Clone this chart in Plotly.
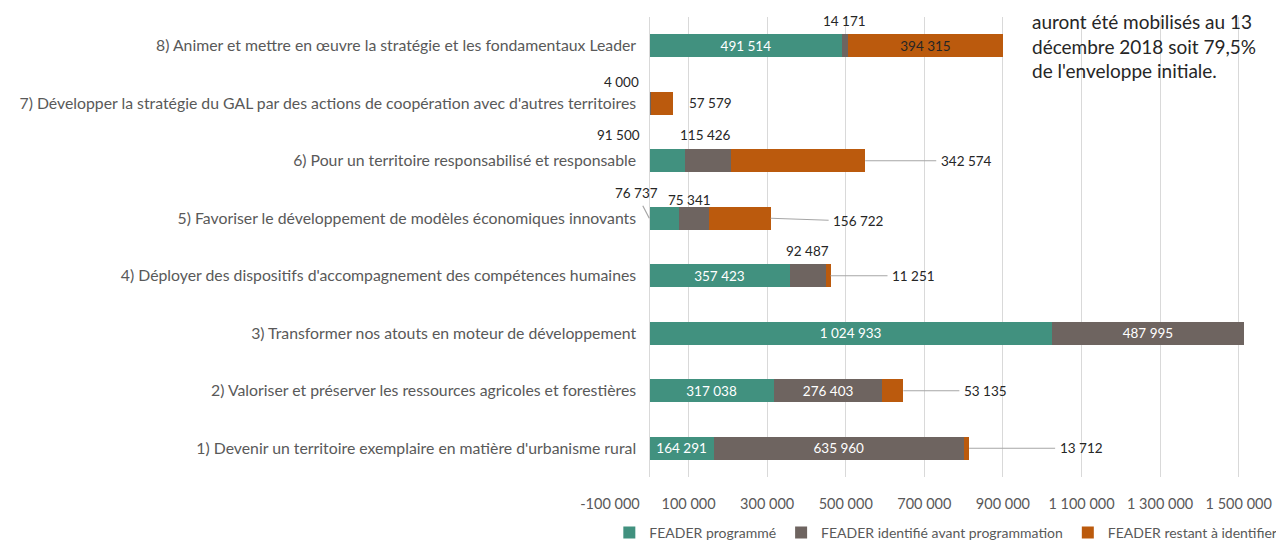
import plotly.graph_objects as go

categories = [
    "1) Devenir un territoire exemplaire en matière d'urbanisme rural",
    "2) Valoriser et préserver les ressources agricoles et forestières",
    "3) Transformer nos atouts en moteur de développement",
    "4) Déployer des dispositifs d'accompagnement des compétences humaines",
    "5) Favoriser le développement de modèles économiques innovants",
    "6) Pour un territoire responsabilisé et responsable",
    "7) Développer la stratégie du GAL par des actions de coopération avec d'autres territoires",
    "8) Animer et mettre en œuvre la stratégie et les fondamentaux Leader",
]
programme = [164291, 317038, 1024933, 357423, 76737, 91500, 0, 491514]
identifie = [635960, 276403, 487995, 92487, 75341, 115426, 4000, 14171]
restant = [13712, 53135, 0, 11251, 156722, 342574, 57579, 394315]

tick_vals = [-100000, 100000, 300000, 500000, 700000, 900000, 1100000, 1300000, 1500000]
tick_text = ["-100 000", "100 000", "300 000", "500 000", "700 000", "900 000",
             "1 100 000", "1 300 000", "1 500 000"]

series_names = ["FEADER programmé", "FEADER identifié avant programmation", "FEADER restant à identifier"]
colors = ["#41917F", "#6E6460", "#BB5A0D"]

note_text = "auront été mobilisés au 13<br>décembre 2018 soit 79,5%<br>de l'enveloppe initiale."

FONT = "Lato, sans-serif"


def fmt(v):
    return f"{v:,}".replace(",", " ")


# which labels are drawn inside the bars
inside = {
    0: {0, 1, 2, 3, 7},
    1: {0, 1, 2},
    2: {7},
}
inside_color = {0: "white", 1: "white", 2: "#262626"}

# outside labels: (series, category index, mode, dx, dy) ; offsets in pixels
outside = [
    (1, 7, "seg", -1, 25),
    (1, 6, "seg", -29, 21),
    (2, 6, "seg", 48, 0),
    (0, 5, "seg", -49, 26),
    (1, 5, "seg", -2, 26),
    (2, 5, "lead", 101, 0),
    (0, 4, "leadstart", -13, -25),
    (1, 4, "seg", -5, 18),
    (2, 4, "lead", 88, -3),
    (1, 3, "seg", 0, 25),
    (2, 3, "lead", 83, 0),
    (2, 1, "lead", 82, 0),
    (2, 0, "lead", 112, 0),
]

series = [programme, identifie, restant]
LABEL_SIZE = 13.5

fig = go.Figure()
for s, vals in enumerate(series):
    texts = [fmt(v) if i in inside[s] else "" for i, v in enumerate(vals)]
    fig.add_trace(go.Bar(
        y=categories, x=vals, orientation="h", name=series_names[s],
        marker=dict(color=colors[s], line=dict(width=0)),
        text=texts, textposition="inside", insidetextanchor="middle",
        textangle=0, constraintext="none",
        textfont=dict(color=inside_color[s], size=LABEL_SIZE, family=FONT),
        hoverinfo="x+name",
    ))

annotations = []
for s, i, mode, dx, dy in outside:
    start = sum(series[k][i] for k in range(s))
    end = start + series[s][i]
    label = fmt(series[s][i])
    if mode == "seg":
        annotations.append(dict(
            x=(start + end) / 2, y=categories[i], xref="x", yref="y",
            text=label, showarrow=False, xshift=dx, yshift=dy,
            font=dict(size=LABEL_SIZE, color="#262626", family=FONT)))
    else:
        tip = end if mode == "lead" else start
        annotations.append(dict(
            x=tip, y=categories[i], xref="x", yref="y",
            text=label, showarrow=True, arrowhead=0, arrowwidth=1.2,
            arrowcolor="#A6A6A6", ax=dx, ay=-dy if mode == "lead" else dy,
            standoff=0, borderpad=4,
            font=dict(size=LABEL_SIZE, color="#262626", family=FONT)))

annotations.append(dict(
    x=0.6287, y=1.0197, xref="paper", yref="paper", xanchor="left", yanchor="top",
    text=note_text, showarrow=False, align="left",
    font=dict(size=19, color="#262626", family=FONT)))

x_min, x_max = -100000, 1600000
zero_pos = (0 - x_min) / (x_max - x_min)

fig.update_layout(
    width=1284, height=541,
    margin=dict(l=602, r=14, t=9, b=72, autoexpand=False),
    paper_bgcolor="white", plot_bgcolor="white",
    barmode="stack", bargap=0.6,
    font=dict(family=FONT, size=14, color="#595959"),
    xaxis=dict(range=[x_min, x_max], tickvals=tick_vals, ticktext=tick_text,
               showgrid=True, gridcolor="#D9D9D9", gridwidth=1,
               zeroline=False, showline=False, ticks="", ticklabelstandoff=16,
               tickfont=dict(size=14.5, color="#595959"), automargin=False),
    yaxis=dict(categoryorder="array", categoryarray=categories,
               range=[-0.5, 7.5], anchor="free", position=zero_pos,
               showline=True, linecolor="#D9D9D9", linewidth=1,
               showgrid=False, ticks="", ticklabelstandoff=10,
               tickfont=dict(size=15.8, color="#595959"), automargin=False),
    legend=dict(orientation="h", x=-0.001, xanchor="left", y=-0.1217, yanchor="middle",
                font=dict(size=14, color="#595959"), traceorder="normal",
                itemwidth=30, tracegroupgap=0),
    showlegend=True,
    annotations=annotations,
)

fig.write_html("out.html")
